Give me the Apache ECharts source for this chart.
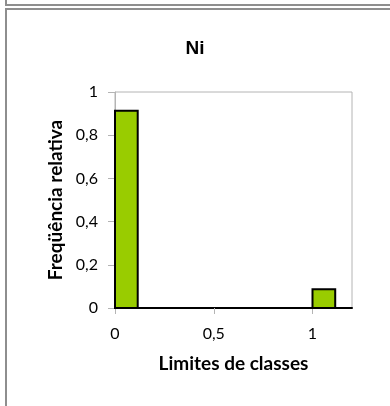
<!DOCTYPE html>
<html>
<head>
<meta charset="utf-8">
<script src="https://cdn.jsdelivr.net/npm/echarts@6/dist/echarts.min.js"></script>
<style>
  html, body { margin: 0; padding: 0; background: #fff; }
  #chart { width: 390px; height: 406px; }
</style>
</head>
<body>
<div id="chart"></div>
<script>
// Histogram of relative frequencies for Ni
const binStart = [0, 1];
const binEnd = [0.115, 1.115];
const relFreq = [0.913, 0.087];
const xTicks = [0, 0.5, 1];
const yTicks = [0, 0.2, 0.4, 0.6, 0.8, 1];

const comma = v => String(v).replace('.', ',');
const labelFont = 'Lato, "DejaVu Sans", sans-serif';

const chart = echarts.init(document.getElementById('chart'));

const bars = binStart.map((s, i) => [s, binEnd[i], relFreq[i]]);

chart.setOption({
  animation: false,
  backgroundColor: '#fff',
  title: {
    text: 'Ni',
    left: 'center',
    top: 34,
    textStyle: { fontFamily: 'Liberation Sans, Arial, sans-serif', fontWeight: 'bold', fontSize: 19, color: '#000' }
  },
  grid: {
    left: 115, right: 38, top: 92, bottom: 98,
    show: true, borderColor: '#b4b4b4', borderWidth: 1, backgroundColor: '#fff'
  },
  xAxis: {
    type: 'value', min: 0, max: 1.2, interval: 0.5,
    name: 'Limites de classes', nameLocation: 'middle', nameGap: 46,
    nameTextStyle: { fontFamily: labelFont, fontWeight: 'bold', fontSize: 19, color: '#000' },
    axisLine: { show: true, lineStyle: { color: '#000', width: 2 } },
    axisTick: { show: true, length: 6, lineStyle: { color: '#b4b4b4' } },
    axisLabel: {
      showMaxLabel: false, margin: 18, fontFamily: labelFont, fontSize: 16, color: '#000',
      formatter: v => xTicks.includes(v) ? comma(v) : ''
    },
    splitLine: { show: false }
  },
  yAxis: {
    type: 'value', min: 0, max: 1, interval: 0.2,
    name: 'Freqüência relativa', nameLocation: 'middle', nameGap: 47, nameRotate: 90,
    nameTextStyle: { fontFamily: labelFont, fontWeight: 'bold', fontSize: 19, color: '#000' },
    axisLine: { show: true, lineStyle: { color: '#b4b4b4', width: 1 } },
    axisTick: { show: true, length: 7, lineStyle: { color: '#b4b4b4' } },
    axisLabel: {
      margin: 17, fontFamily: labelFont, fontSize: 16, color: '#000',
      formatter: v => yTicks.some(t => Math.abs(t - v) < 1e-9) ? comma(+v.toFixed(1)) : ''
    },
    splitLine: { show: false }
  },
  series: [{
    type: 'custom',
    data: bars,
    encode: { x: [0, 1], y: 2 },
    renderItem: (params, api) => {
      const p0 = api.coord([api.value(0), 0]);
      const p1 = api.coord([api.value(1), api.value(2)]);
      return {
        type: 'rect',
        shape: { x: p0[0], y: p1[1], width: p1[0] - p0[0], height: p0[1] - p1[1] },
        style: { fill: '#99cc00', stroke: '#000', lineWidth: 2 }
      };
    }
  }],
  graphic: [
    { type: 'line', shape: { x1: 6, y1: 0, x2: 6, y2: 6 }, style: { stroke: '#8e8e8e', lineWidth: 2 } },
    { type: 'line', shape: { x1: 6, y1: 5, x2: 390, y2: 5 }, style: { stroke: '#8e8e8e', lineWidth: 2 } },
    { type: 'line', shape: { x1: 5, y1: 9, x2: 390, y2: 9 }, style: { stroke: '#8e8e8e', lineWidth: 2 } },
    { type: 'line', shape: { x1: 6, y1: 9, x2: 6, y2: 406 }, style: { stroke: '#8e8e8e', lineWidth: 2 } }
  ]
});
</script>
</body>
</html>
